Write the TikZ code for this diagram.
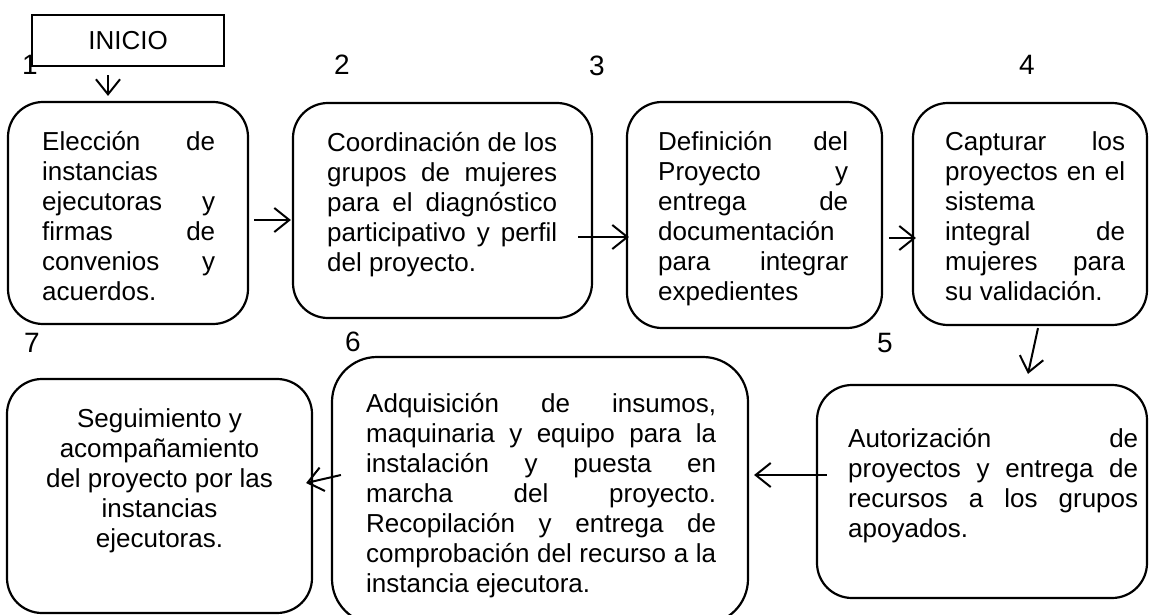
\documentclass[tikz,border=0pt]{standalone}
\usepackage{fontspec}
\setmainfont{Liberation Sans}
\usetikzlibrary{arrows.meta}
\newcommand\jl[1]{\makebox[\linewidth][s]{#1}\\}
\newcommand\mybody{\fontsize{26}{30}\selectfont}
\begin{document}
\begin{tikzpicture}[x=1pt,y=-1pt,
  box/.style={draw, line width=2.2pt, rounded corners=35pt, inner sep=0},
  txt/.style={inner sep=0, anchor=base west, font=\mybody},
  num/.style={inner sep=0, anchor=base, font=\fontsize{28}{30}\selectfont},
  arr/.style={line width=2pt, -{Straight Barb[length=15pt,width=24pt,line width=2pt]}}]
\useasboundingbox (0,0) rectangle (1149,615);
% numbers
\node[num] (n1) at (30,75) {1};
\node[num] (n2) at (342,75) {2};
\node[num] (n3) at (597,76) {3};
\node[num] (n4) at (1027,75) {4};
\node[num] (n5) at (885,352) {5};
\node[num] (n6) at (353,351) {6};
\node[num] (n7) at (32,352) {7};
% start
\node[draw, line width=2.2pt, fill=white, minimum width=192pt, minimum height=51pt, inner sep=0, font=\mybody] (inicio) at (128,40.5) {INICIO};
% boxes
\node[box, minimum width=240pt, minimum height=222pt] (b1) at (128,213) {};
\node[box, minimum width=299pt, minimum height=215pt] (b2) at (442.5,210.5) {};
\node[box, minimum width=255pt, minimum height=226pt] (b3) at (754.5,215) {};
\node[box, minimum width=234pt, minimum height=222pt] (b4) at (1030,214) {};
\node[box, minimum width=330pt, minimum height=213pt] (b5) at (982,491.5) {};
\node[box, rounded corners=45pt, minimum width=416pt, minimum height=267pt] (b6) at (540,490.5) {};
\node[box, minimum width=305pt, minimum height=234pt] (b7) at (159.5,496) {};
% texts
\node[txt] (t1) at (42,151) {\parbox[t]{173pt}{\jl{Elección de}instancias\\\jl{ejecutoras y}\jl{firmas de}\jl{convenios y}acuerdos.}};
\node[txt] (t2) at (327,152) {\parbox[t]{230pt}{\jl{Coordinación de los}\jl{grupos de mujeres}\jl{para el diagnóstico}\jl{participativo y perfil}del proyecto.}};
\node[txt] (t3) at (658,150) {\parbox[t]{190pt}{\jl{Definición del}\jl{Proyecto y}\jl{entrega de}documentación\\\jl{para integrar}expedientes}};
\node[txt] (t4) at (945,150) {\parbox[t]{180pt}{\jl{Capturar los}\jl{proyectos en el}sistema\\\jl{integral de}\jl{mujeres para}su validación.}};
\node[txt] (t5) at (848,447) {\parbox[t]{290pt}{\jl{Autorización de}\jl{proyectos y entrega de}\jl{recursos a los grupos}apoyados.}};
\node[txt] (t6) at (366,412) {\parbox[t]{350pt}{\jl{Adquisición de insumos,}\jl{maquinaria y equipo para la}\jl{instalación y puesta en}\jl{marcha del proyecto.}\jl{Recopilación y entrega de}\jl{comprobación del recurso a la}instancia ejecutora.}};
\node[inner sep=0, anchor=base, font=\mybody] (t7) at (159.5,427) {\parbox[t]{290pt}{\centering Seguimiento y\\acompañamiento\\del proyecto por las\\instancias\\ejecutoras.}};
% arrows
\draw[arr] ([shift={(-20,8)}]inicio.south) -- ([shift={(-20,-5)}]b1.north);
\draw[arr] ([shift={(5,7)}]b1.east) -- ([shift={(-1,9.5)}]b2.west);
\draw[arr] ([shift={(-15,26.5)}]b2.east) -- ([shift={(3,22)}]b3.west);
\draw[arr] ([shift={(6,23)}]b3.east) -- ([shift={(4,24)}]b4.west);
\draw[arr] ([shift={(8,2)}]b4.south) -- ([shift={(46,-10)}]b5.north);
\draw[arr] ([shift={(11,-16.5)}]b5.west) -- ([shift={(5,-15.5)}]b6.east);
\draw[arr] ([shift={(10,-15.5)}]b6.west) -- ([shift={(-7,-13)}]b7.east);
\end{tikzpicture}
\end{document}
